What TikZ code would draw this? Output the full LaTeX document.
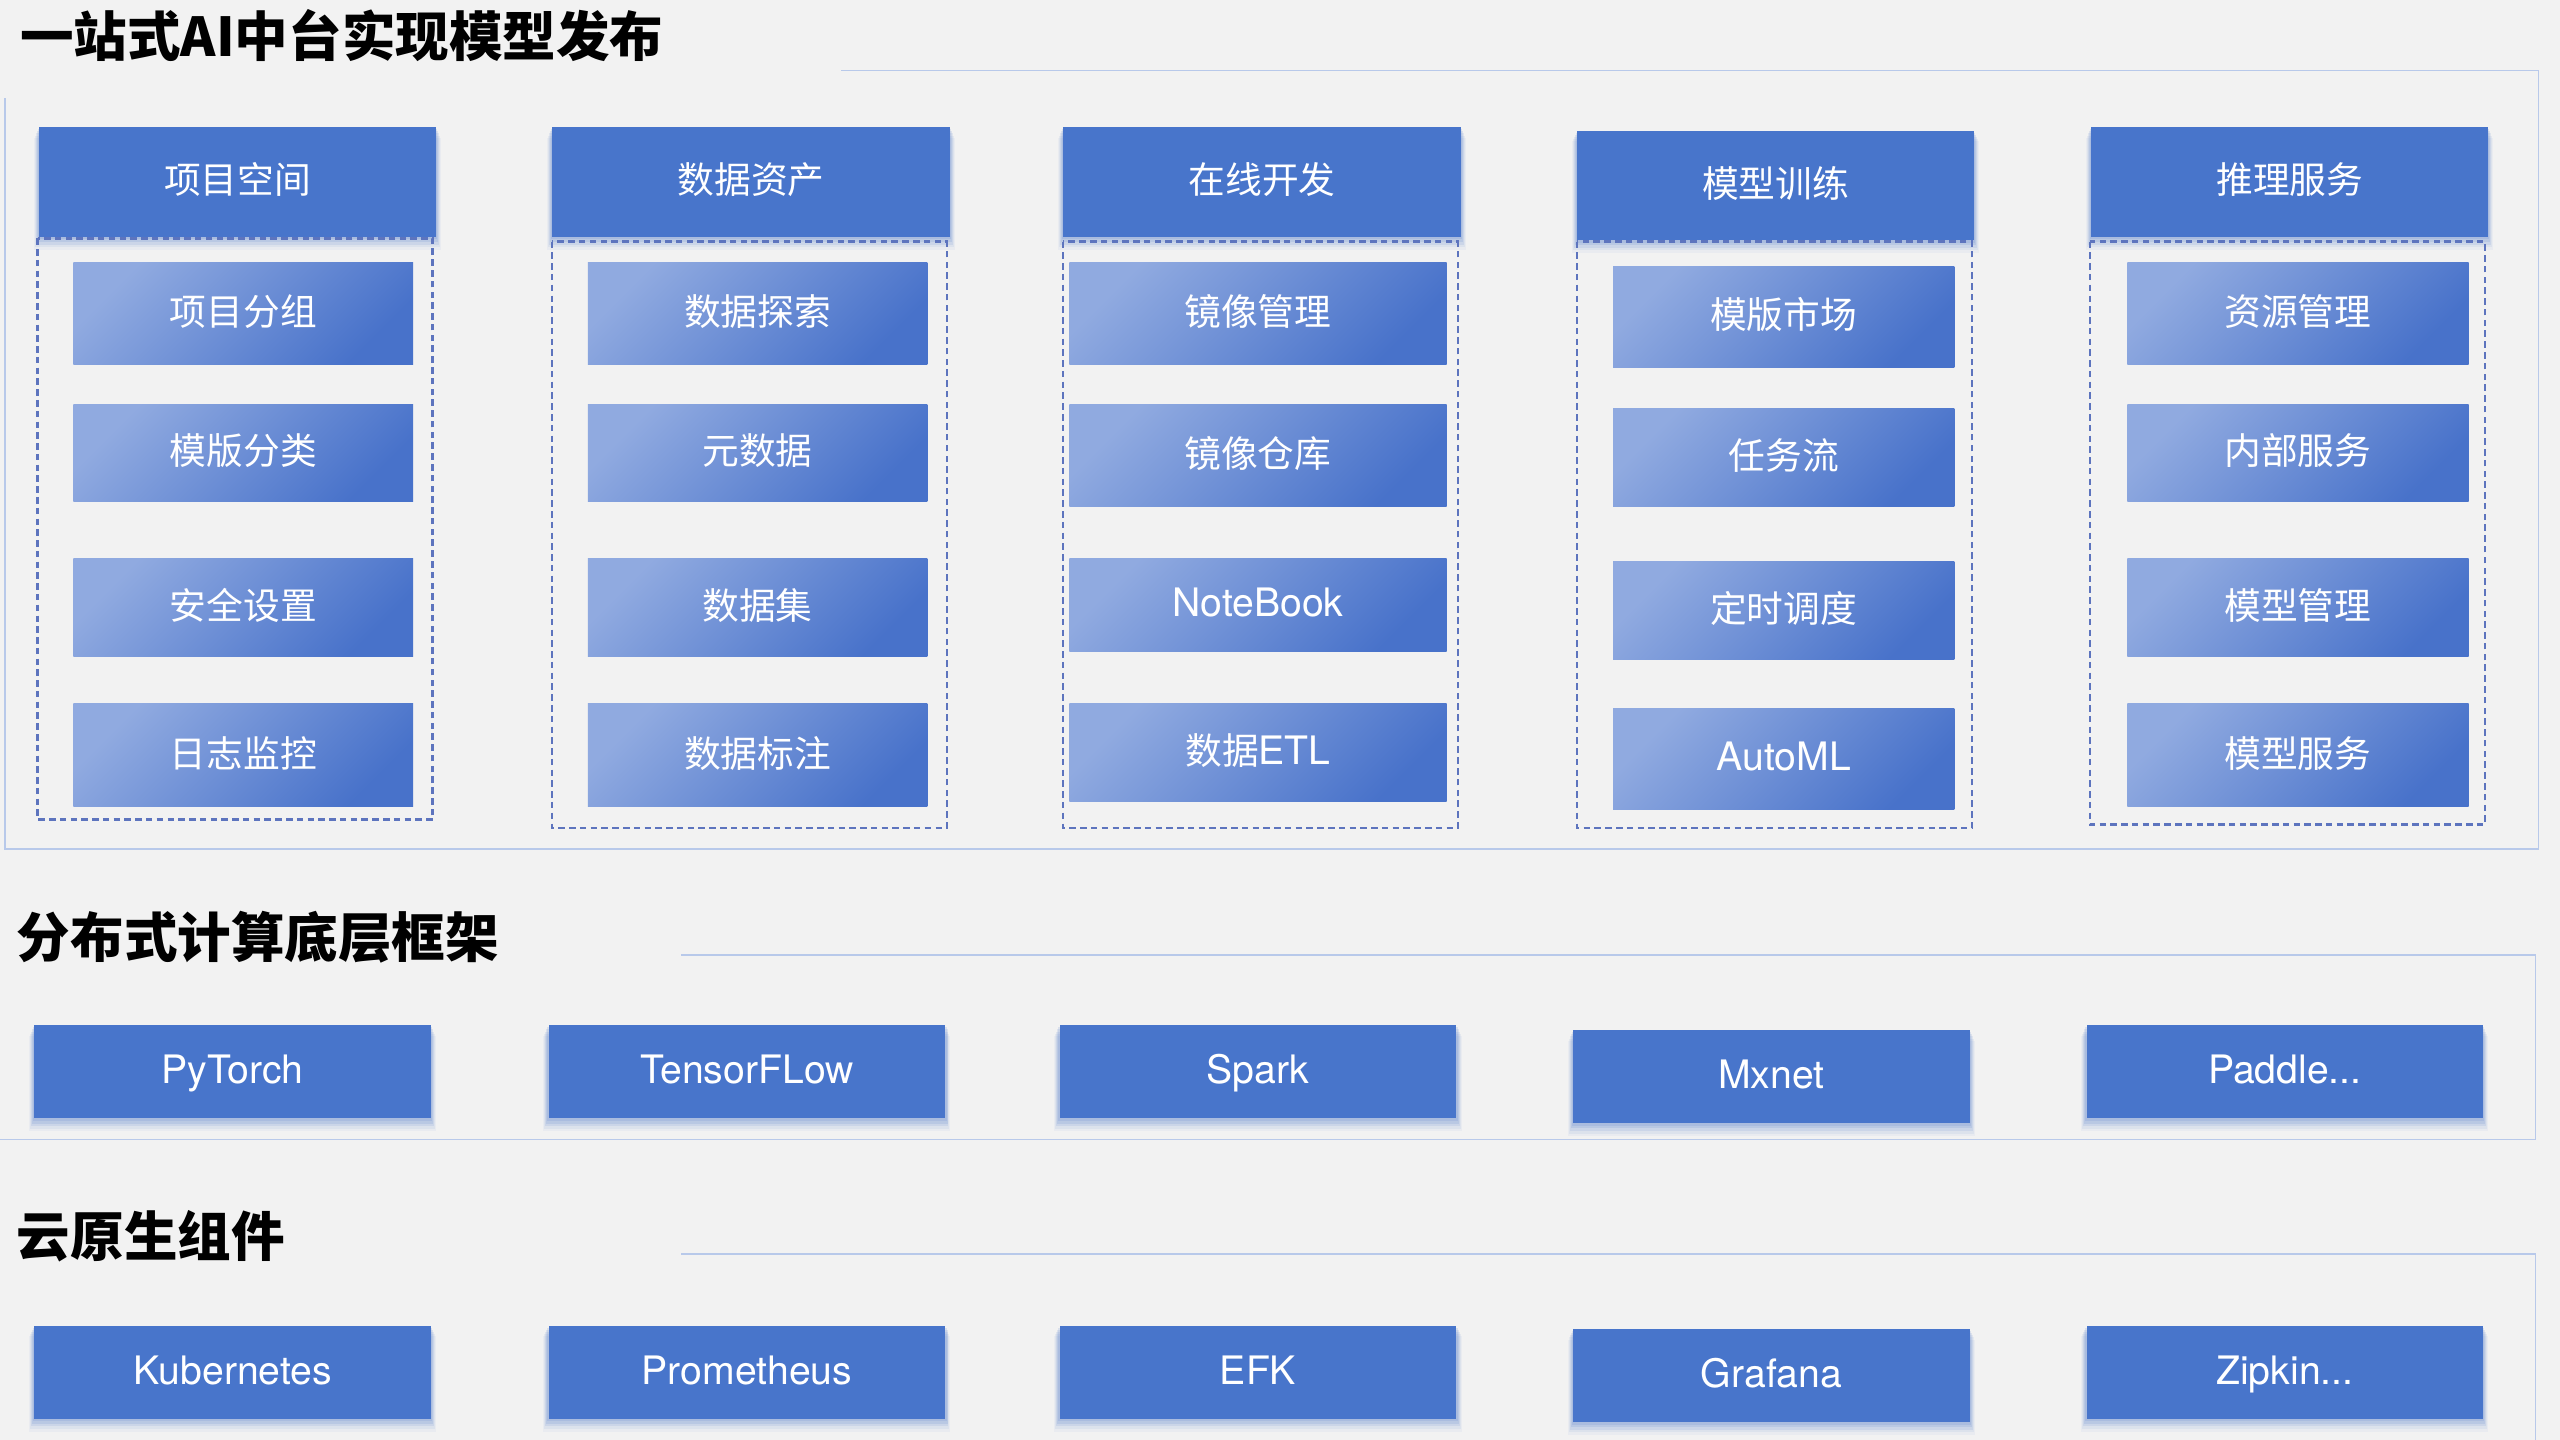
\documentclass[tikz,border=0pt]{standalone}
\usepackage{fontspec}
\setmainfont{Noto Sans CJK SC}
\newfontfamily\cjk{Noto Sans CJK SC}
\newfontfamily\lat{TeX Gyre Heros}
\usetikzlibrary{shadows}
\definecolor{bg}{HTML}{F2F2F2}
\definecolor{hdr}{HTML}{4875CB}
\definecolor{itl}{HTML}{90AAE0}
\definecolor{itd}{HTML}{4872CA}
\definecolor{dsh}{HTML}{5D74BE}
\definecolor{frm}{HTML}{B8C9EA}
\begin{document}
\begin{tikzpicture}[x=0.5pt,y=-0.5pt,
  sz/.style 2 args={minimum width=#1*0.5pt, minimum height=#2*0.5pt, inner sep=0pt, outer sep=0pt},
  cjkfont/.style={font=\cjk\fontsize{11.25}{13}\selectfont, text height=8pt, text depth=0.7pt},
  latfont/.style={font=\lat\fontsize{12}{14}\selectfont, text height=8.6pt, text depth=1.4pt},
  shad/.style={
    general shadow={fill=hdr, opacity=0.14, shadow yshift=-0.7pt, shadow scale=1.006},
    general shadow={fill=hdr, opacity=0.13, shadow yshift=-1.4pt, shadow scale=1.011},
    general shadow={fill=hdr, opacity=0.11, shadow yshift=-2.1pt, shadow scale=1.016},
    general shadow={fill=hdr, opacity=0.08, shadow yshift=-2.8pt, shadow scale=1.021},
    general shadow={fill=hdr, opacity=0.05, shadow yshift=-3.5pt, shadow scale=1.026}},
  hdrbox/.style={fill=hdr, text=white, shad, cjkfont},
  item/.style={shading=axis, top color=itl, bottom color=itd, shading angle=45, text=white, cjkfont},
  techbox/.style={fill=hdr, text=white, shad, latfont, sz={243}{57}},
  group/.style={draw=dsh, dash pattern=on 2pt off 1.3pt, line width=0.75pt},
  frame/.style={draw=frm, line width=0.4pt},
  title/.style={anchor=west, inner sep=0pt, font=\cjk\bfseries\fontsize{16.4}{19}\selectfont, text=black}
]
\useasboundingbox (0,0) rectangle (1568,882);
\fill[bg] (0,0) rectangle (1568,882);

% section frames
\path[frame] (3,43) rectangle (1555,520);
\fill[bg] (-3,-3) rectangle (515,60);
\path[frame] (-3,585) rectangle (1553,698);
\fill[bg] (-3,545) rectangle (417,600);
\path[frame] (-3,768) rectangle (1553,900);
\fill[bg] (-3,730) rectangle (417,782);

\node[title] (t1) at (12,22) {一站式AI中台实现模型发布};
\node[title] (t2) at (10,574) {分布式计算底层框架};
\node[title] (t3) at (10,757) {云原生组件};

% column headers
\node[hdrbox, sz={243}{67}] (h1) at (145.5,111.5) {项目空间};
\node[hdrbox, sz={244}{67}] (h2) at (460,111.5) {数据资产};
\node[hdrbox, sz={244}{67}] (h3) at (773,111.5) {在线开发};
\node[hdrbox, sz={243}{67}] (h4) at (1087.5,113.5) {模型训练};
\node[hdrbox, sz={243}{67}] (h5) at (1402.5,111.5) {推理服务};

% dashed groups
\draw[group] (23,146) rectangle (265,502);
\draw[group] (338,148) rectangle (580,507);
\draw[group] (651,148) rectangle (893,507);
\draw[group] (966,148) rectangle (1208,507);
\draw[group] (1280,148) rectangle (1522,505);

% column 1
\node[item, sz={208}{62}] (a1) at (149,192) {项目分组};
\node[item, sz={208}{59}] (a2) at (149,277.5) {模版分类};
\node[item, sz={208}{60}] (a3) at (149,372) {安全设置};
\node[item, sz={208}{63}] (a4) at (149,462.5) {日志监控};
% column 2
\node[item, sz={208}{62}] (b1) at (464,192) {数据探索};
\node[item, sz={208}{59}] (b2) at (464,277.5) {元数据};
\node[item, sz={208}{60}] (b3) at (464,372) {数据集};
\node[item, sz={208}{63}] (b4) at (464,462.5) {数据标注};
% column 3
\node[item, sz={231}{62}] (c1) at (770.5,192) {镜像管理};
\node[item, sz={231}{62}] (c2) at (770.5,279) {镜像仓库};
\node[item, sz={231}{57}, latfont] (c3) at (770.5,370.5) {NoteBook};
\node[item, sz={231}{60}] (c4) at (770.5,461) {数据{\lat\fontsize{12}{14}\selectfont ETL}};
% column 4
\node[item, sz={209}{62}] (d1) at (1092.5,194) {模版市场};
\node[item, sz={209}{60}] (d2) at (1092.5,280) {任务流};
\node[item, sz={209}{60}] (d3) at (1092.5,374) {定时调度};
\node[item, sz={209}{62}, latfont] (d4) at (1092.5,465) {AutoML};
% column 5
\node[item, sz={209}{62}] (e1) at (1407.5,192) {资源管理};
\node[item, sz={209}{59}] (e2) at (1407.5,277.5) {内部服务};
\node[item, sz={209}{60}] (e3) at (1407.5,372) {模型管理};
\node[item, sz={209}{63}] (e4) at (1407.5,462.5) {模型服务};

% distributed frameworks
\node[techbox] (f1) at (142.5,656.5) {PyTorch};
\node[techbox] (f2) at (457.5,656.5) {TensorFLow};
\node[techbox] (f3) at (770.5,656.5) {Spark};
\node[techbox] (f4) at (1085,659.5) {Mxnet};
\node[techbox] (f5) at (1399.5,656.5) {Paddle...};

% cloud native
\node[techbox] (g1) at (142.5,840.5) {Kubernetes};
\node[techbox] (g2) at (457.5,840.5) {Prometheus};
\node[techbox] (g3) at (770.5,840.5) {EFK};
\node[techbox] (g4) at (1085,842.5) {Grafana};
\node[techbox] (g5) at (1399.5,840.5) {Zipkin...};
\end{tikzpicture}
\end{document}
